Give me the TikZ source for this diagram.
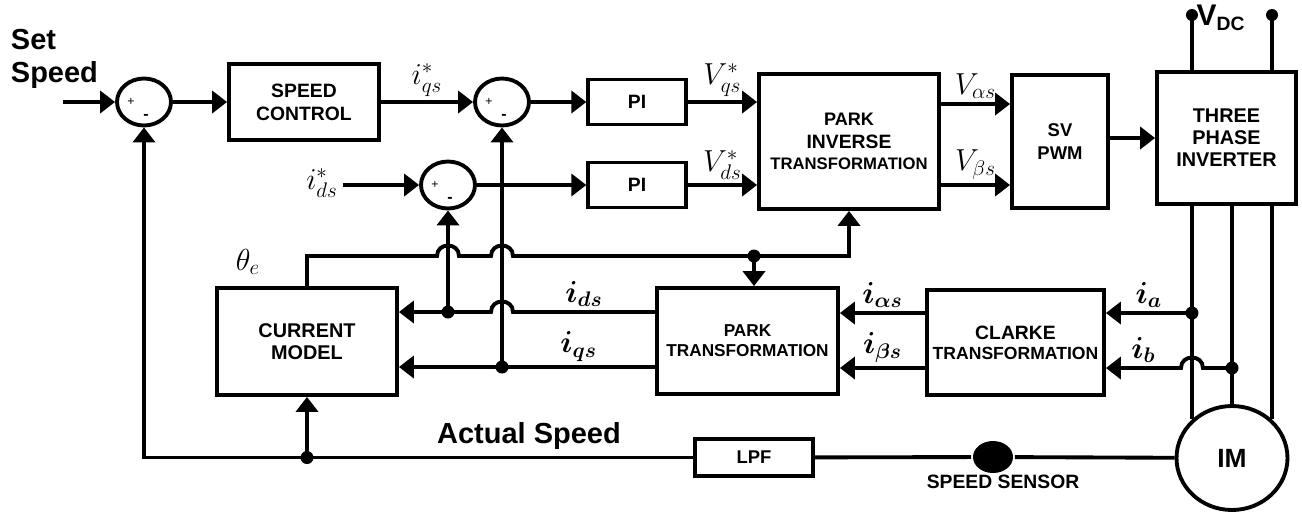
\documentclass[tikz,border=0pt]{standalone}
\usepackage{amsmath}
\usepackage{fontspec}
\setmainfont{Liberation Sans}
\usetikzlibrary{arrows.meta,shapes.geometric,calc}

\begin{document}
\begin{tikzpicture}[x=0.02cm, y=-0.02cm, line width=2.2pt,
  >={Triangle[length=8.5pt,width=12.5pt]},
  blk/.style={draw, align=center, inner sep=0pt, font=\bfseries\fontsize{11}{13}\selectfont},
  sumnode/.style={draw, ellipse, inner sep=0pt, minimum width=1.08cm, minimum height=0.94cm},
  lbl/.style={font=\fontsize{17}{20}\selectfont, inner sep=2pt},
  sgn/.style={inner sep=0pt}]
  \useasboundingbox (0,0) rectangle (1302,512);

  % Sumadores y bloques
  \node[sumnode] (sum1) at (144,102) {};
  \node[sumnode] (sum2) at (502,102) {};
  \node[sumnode] (sum3) at (448,185) {};
  \node[blk, minimum width=3cm, minimum height=1.52cm] (speedctl) at (304,102) {SPEED\\CONTROL};
  \node[blk, minimum width=1.95cm, minimum height=0.9cm] (pi1) at (637,102) {PI};
  \node[blk, minimum width=1.95cm, minimum height=0.9cm] (pi2) at (637,185) {PI};
  \node[blk, minimum width=3.6cm, minimum height=2.7cm] (parkinv) at (849,141.5)
    {\fontsize{10.3}{13}\selectfont PARK\\INVERSE\\[-1pt]\fontsize{9.5}{12}\selectfont TRANSFORMATION};
  \node[blk, minimum width=1.92cm, minimum height=2.66cm, font=\bfseries\fontsize{10.5}{13}\selectfont] (svpwm) at (1060,141.5) {SV\\PWM};
  \node[blk, minimum width=2.78cm, minimum height=2.64cm, font=\bfseries\fontsize{11.3}{12.5}\selectfont] (inverter) at (1226.5,138) {THREE\\PHASE\\INVERTER};
  \node[blk, minimum width=3.6cm, minimum height=2.14cm, font=\bfseries\fontsize{11.3}{12.5}\selectfont] (curmodel) at (307,341.5) {CURRENT\\MODEL};
  \node[blk, minimum width=3.62cm, minimum height=2.12cm, font=\bfseries\fontsize{9.8}{11.4}\selectfont] (park) at (747.5,341) {PARK\\TRANSFORMATION};
  \node[blk, minimum width=3.54cm, minimum height=2.1cm, font=\bfseries\fontsize{10}{11.4}\selectfont] (clarke) at (1015.5,342.5)
    {\fontsize{11}{11.4}\selectfont CLARKE\\\fontsize{10}{11.4}\selectfont TRANSFORMATION};
  \node[blk, minimum width=2.36cm, minimum height=0.74cm, font=\bfseries\fontsize{10.5}{12}\selectfont] (lpf) at (754,457.5) {LPF};
  \node[draw, ellipse, inner sep=0pt, minimum width=2.22cm, minimum height=2.08cm, font=\bfseries\fontsize{15}{18}\selectfont] (im) at (1232,458) {IM};
  \node[ellipse, fill, inner sep=0pt, minimum width=0.8cm, minimum height=0.64cm] (sensor) at (993,457) {};

  % Signos de los sumadores
  \foreach \s in {sum1,sum2,sum3} {
    \node[sgn, font=\fontsize{7}{8}\selectfont] (\s-p) at ($(\s)+(-13,0)$) {+};
    \node[sgn, font=\bfseries\fontsize{9}{10}\selectfont] (\s-m) at ($(\s)+(2,15)$) {-};
  }

  % Textos sueltos
  \node[font=\bfseries\fontsize{16.5}{19}\selectfont, align=left, anchor=north west, inner sep=0pt] (setsp) at (9,27) {Set\\Speed};
  \node[lbl] (idsref) at (322,183) {$i^*_{ds}$};
  \node[lbl] (theta) at (248,262) {$\theta_e$};
  \node[font=\bfseries\fontsize{16.5}{19}\selectfont, anchor=south, inner sep=0pt] (actsp) at (529,451) {Actual Speed};
  \node[font=\bfseries\fontsize{11}{13}\selectfont, inner sep=0pt] (sensorlbl) at (1003,482) {SPEED SENSOR};

  % Lazo de velocidad y de corriente
  \coordinate (ssin) at (63,102);
  \draw[->] (ssin) -- (sum1);
  \draw[->] (sum1) -- (speedctl);
  \draw[->] (speedctl) -- node[above, lbl] (iqsref) {$i^*_{qs}$} (sum2);
  \draw[->] (sum2) -- (pi1);
  \draw[->] (pi1) -- node[above, lbl] (vqs) {$V^*_{qs}$} (pi1 -| parkinv.west);
  \draw[->] (idsref.east |- sum3) -- (sum3);
  \draw[->] (sum3) -- (pi2);
  \draw[->] (pi2) -- node[above, lbl] (vds) {$V^*_{ds}$} (pi2 -| parkinv.west);
  \draw[->] (parkinv.east |- 0,104) -- node[above, lbl] (va) {$V_{\alpha s}$} (svpwm.west |- 0,104);
  \draw[->] (parkinv.east |- 0,185) -- node[above, lbl] (vb) {$V_{\beta s}$} (svpwm.west |- 0,185);
  \draw[->] (svpwm.east |- 0,138) -- (inverter.west |- 0,138);

  % Alimentacion y fases del motor
  \coordinate (pa) at (im.136);
  \coordinate (pb) at (im.north);
  \coordinate (pc) at (im.44);
  \foreach \p in {pa,pc} {
    \draw (inverter.north -| \p) -- (\p |- 0,15);
    \fill (\p |- 0,15) circle[radius=6];
  }
  \node[inner sep=0pt, font=\bfseries] (vdc) at (1221,18) {\fontsize{17}{18}\selectfont V\textsubscript{\fontsize{11}{12}\selectfont DC}};
  \foreach \p in {pa,pb,pc} \draw (inverter.south -| \p) -- (\p);

  % Corrientes medidas
  \coordinate (iaj) at (pa |- 0,313);
  \coordinate (ibj) at (pb |- 0,368);
  \fill (iaj) circle[radius=6.5];
  \fill (ibj) circle[radius=6.5];
  \draw[->] (iaj) -- node[above, lbl] (ia) {$\boldsymbol{i}_{\boldsymbol{a}}$} (clarke.east |- iaj);
  \draw[->] (ibj) -- ($(pa |- ibj)+(11,0)$) .. controls +(0,-14) and +(0,-14) .. ++(-22,0)
    -- node[above, lbl] (ib) {$\boldsymbol{i}_{\boldsymbol{b}}$} (clarke.east |- ibj);
  \draw[->] (clarke.west |- iaj) -- node[above, lbl] (ias) {$\boldsymbol{i}_{\boldsymbol{\alpha s}}$} (park.east |- iaj);
  \draw[->] (clarke.west |- ibj) -- node[above, lbl] (ibs) {$\boldsymbol{i}_{\boldsymbol{\beta s}}$} (park.east |- ibj);

  % Realimentacion id, iq y angulo
  \coordinate (fbd) at (sum3.south |- 0,312);
  \coordinate (fbq) at (sum2.south |- 0,367);
  \coordinate (thj) at (754,256);
  \draw[->] (park.west |- fbd) -- node[above, lbl] (ids) {$\boldsymbol{i}_{\boldsymbol{ds}}$} ($(fbq |- fbd)+(11,0)$)
    .. controls +(0,-14) and +(0,-14) .. ++(-22,0) -- (curmodel.east |- fbd);
  \draw[->] (park.west |- fbq) -- node[above, lbl] (iqs) {$\boldsymbol{i}_{\boldsymbol{qs}}$} (fbq) -- (curmodel.east |- fbq);
  \fill (fbd) circle[radius=6.5];
  \fill (fbq) circle[radius=6.5];
  \draw[->] (fbd) -- (sum3.south);
  \draw[->] (fbq) -- (sum2.south);
  \draw[->] (curmodel.north) |- ($(fbd |- thj)+(-11,0)$) .. controls +(0,-14) and +(0,-14) .. ++(22,0)
    -- ($(fbq |- thj)+(-11,0)$) .. controls +(0,-14) and +(0,-14) .. ++(22,0) -| (parkinv.south);
  \fill (thj) circle[radius=6.5];
  \draw[->] (thj) -- (thj |- park.north);

  % Velocidad medida
  \draw (im) -- (sensor);
  \draw (sensor) -- (lpf);
  \draw[->] (lpf.west) -| (sum1.south);
  \coordinate (spj) at (curmodel.south |- lpf);
  \fill (spj) circle[radius=6.5];
  \draw[->] (spj) -- (curmodel.south);
\end{tikzpicture}
\end{document}
